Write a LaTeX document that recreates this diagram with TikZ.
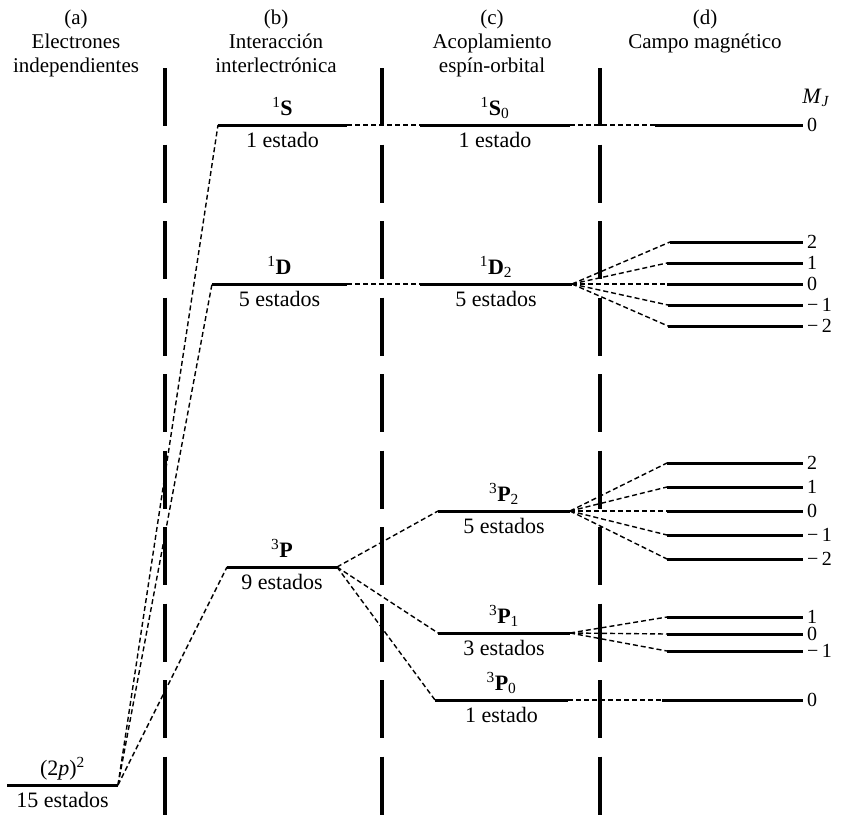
\documentclass[tikz,border=0pt]{standalone}
\usepackage{fontspec}
\setmainfont{Liberation Serif}
\usepackage{tikz}
\usetikzlibrary{calc, positioning}

\tikzset{
  level/.style={line width=3pt},
  link/.style={line width=1.4pt, dash pattern=on 5pt off 3pt},
  divider/.style={line width=3.4pt, dash pattern=on 58pt off 18.5pt},
  head/.style={anchor=base, inner sep=0pt, font=\fontsize{21}{24}\selectfont},
  tag/.style={anchor=base, inner sep=1pt, font=\fontsize{22}{24}\selectfont},
  mval/.style={anchor=west, inner sep=0pt, xshift=4pt, font=\fontsize{20}{22}\selectfont},
}

\begin{document}
\begin{tikzpicture}[x=1pt, y=-1pt]

    % =================================================================
    % FRAME
    % =================================================================
    \useasboundingbox (0,0) rectangle (844,820);

    % =================================================================
    % COLUMN HEADINGS
    % =================================================================
    \node[head] (a1) at (76,24) {(a)};
    \node[head] (a2) at (76,48) {Electrones};
    \node[head] (a3) at (76,72) {independientes};

    \node[head] (b1) at (276,24) {(b)};
    \node[head] (b2) at (276,48) {Interacción};
    \node[head] (b3) at (276,72) {interlectrónica};

    \node[head] (c1) at (492,24) {(c)};
    \node[head] (c2) at (492,48) {Acoplamiento};
    \node[head] (c3) at (492,72) {espín-orbital};

    \node[head] (d1) at (705,24) {(d)};
    \node[head] (d2) at (705,48) {Campo magnético};

    \node[tag] (MJ) at (816,103) {\textit{M}\textsubscript{\textit{J}}};

    % =================================================================
    % DASHED DIVIDERS
    % =================================================================
    \foreach \n/\x in {one/165, two/382, three/600} {
        \coordinate (div-\n-t) at (\x,68);
        \coordinate (div-\n-b) at (\x,820);
        \draw[divider] (div-\n-t) -- (div-\n-b);
    }

    % =================================================================
    % TERM LEVELS
    % =================================================================
    \foreach \n/\xa/\xb/\y/\nm/\cnt in {
        twop/7/118/785/{(2\textit{p})\textsuperscript{2}}/{15 estados},
        S/218/347/125/{\textsuperscript{1}\textbf{S}}/{1 estado},
        D/212/347/284/{\textsuperscript{1}\textbf{D}}/{5 estados},
        P/227/337/567/{\textsuperscript{3}\textbf{P}}/{9 estados},
        S0/420/570/125/{\textsuperscript{1}\textbf{S}\textsubscript{0}}/{1 estado},
        D2/420/572/284/{\textsuperscript{1}\textbf{D}\textsubscript{2}}/{5 estados},
        P2/438/570/511/{\textsuperscript{3}\textbf{P}\textsubscript{2}}/{5 estados},
        P1/438/570/633/{\textsuperscript{3}\textbf{P}\textsubscript{1}}/{3 estados},
        P0/435/568/700/{\textsuperscript{3}\textbf{P}\textsubscript{0}}/{1 estado}} {
        \coordinate (\n-l) at (\xa,\y);
        \coordinate (\n-r) at (\xb,\y);
        \coordinate (\n-m) at ($(\n-l)!.5!(\n-r)$);
        \draw[level] (\n-l) -- (\n-r);
        \node[tag] (\n-name) at ($(\n-m)+(0,10pt)$) {\nm};
        \node[tag] (\n-count) at ($(\n-m)+(0,-22pt)$) {\cnt};
    }

    % splitting from the configuration
    \draw[link] (twop-r) -- (S-l);
    \draw[link] (twop-r) -- (D-l);
    \draw[link] (twop-r) -- (P-l);

    % spin-orbit splitting
    \draw[link] (S-r) -- (S0-l);
    \draw[link] (D-r) -- (D2-l);
    \draw[link] (P-r) -- (P2-l);
    \draw[link] (P-r) -- (P1-l);
    \draw[link] (P-r) -- (P0-l);

    % =================================================================
    % ZEEMAN SUBLEVELS
    % =================================================================
    \foreach \n/\xs/\y/\v/\src in {
        MS/655/125/0/S0,
        MD-a/670/242/2/D2, MD-b/667/263/1/D2, MD-c/667/284/0/D2,
        MD-d/668/305/{−\,1}/D2, MD-e/668/326/{−\,2}/D2,
        MPa/667/463/2/P2, MPb/667/487/1/P2, MPc/667/511/0/P2,
        MPd/667/535/{−\,1}/P2, MPe/667/559/{−\,2}/P2,
        MQa/667/617/1/P1, MQb/667/634/0/P1, MQc/667/651/{−\,1}/P1,
        MR/662/700/0/P0} {
        \coordinate (\n-l) at (\xs,\y);
        \coordinate (\n-r) at (803,\y);
        \draw[level] (\n-l) -- (\n-r);
        \draw[link] (\src-r) -- (\n-l);
        \node[mval] (\n-val) at (\n-r) {\v};
    }

\end{tikzpicture}
\end{document}
